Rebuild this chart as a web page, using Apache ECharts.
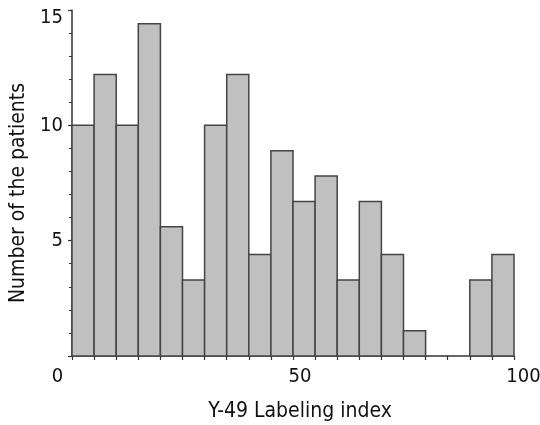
<!DOCTYPE html>
<html><head><meta charset="utf-8">
<script src="https://cdn.jsdelivr.net/npm/echarts@6/dist/echarts.min.js"></script>
<style>html,body{margin:0;padding:0;background:#fff}#c{width:540px;height:425px}</style>
</head><body><div id="c"></div>
<script>
const binStarts = [0,5,10,15,20,25,30,35,40,45,50,55,60,65,70,75,80,85,90,95];
const binWidth = 5;
const values = [10,12.2,10,14.4,5.6,3.3,10,12.2,4.4,8.9,6.7,7.8,3.3,6.7,4.4,1.1,0,0,3.3,4.4];
const xTickLabels = ['0','50','100'];
const yTickLabels = ['5','10','15'];
const xTitle = 'Y-49 Labeling index';
const yTitle = 'Number of the patients';

const FONT = 'DejaVu Sans Condensed';
const FS = 20, TFS = 21;
const data = binStarts.map((s,i)=>[s, s+binWidth, values[i]]);
const lbl = (extra)=>Object.assign({fontFamily:FONT,fontSize:FS,color:'#111'},extra);
const chart = echarts.init(document.getElementById('c'), null, {renderer:'canvas'});
chart.setOption({
  animation:false,
  backgroundColor:'#fff',
  grid:{left:72,right:26,top:10,bottom:69,containLabel:false,outerBoundsMode:'none'},
  xAxis:{
    type:'value',min:0,max:100,interval:5,
    axisLine:{lineStyle:{color:'#333',width:1.5}},
    axisTick:{show:true,length:4,lineStyle:{color:'#333',width:1.2}},
    splitLine:{show:false},
    axisLabel:{
      margin:11,color:'#111',fontFamily:FONT,fontSize:FS,
      formatter:v=>{const s=String(v); if(!xTickLabels.includes(s)) return ''; return v===0?'{a|'+s+'}':(v===50?'{b|'+s+'}':'{c|'+s+'}');},
      rich:{a:lbl({padding:[0,29,0,0]}),b:lbl({padding:[0,0,0,14]}),c:lbl({padding:[0,0,0,19]})}
    },
    name:xTitle,nameLocation:'middle',nameGap:45,
    nameTextStyle:{fontFamily:FONT,fontSize:TFS,color:'#111',padding:[0,0,0,14]}
  },
  yAxis:{
    type:'value',min:0,max:15,interval:5,
    axisLine:{show:true,lineStyle:{color:'#333',width:1.5}},
    axisTick:{show:true,length:4,lineStyle:{color:'#333',width:1.2}},
    minorTick:{show:true,splitNumber:5,length:3,lineStyle:{color:'#333',width:1}},
    splitLine:{show:false},
    axisLabel:{
      margin:9,color:'#111',fontFamily:FONT,fontSize:FS,
      formatter:v=>{const s=String(v); if(!yTickLabels.includes(s)) return ''; return v===15?'{t|'+s+'}':s;},
      rich:{t:lbl({padding:[16,0,0,0]})}
    },
    name:yTitle,nameLocation:'middle',nameGap:42,nameRotate:90,
    nameTextStyle:{fontFamily:FONT,fontSize:TFS,color:'#111',padding:[0,20,0,0]}
  },
  series:[{
    type:'custom',
    data:data,
    encode:{x:[0,1],y:2},
    renderItem:(params,api)=>{
      const p0=api.coord([api.value(0),api.value(2)]);
      const p1=api.coord([api.value(1),0]);
      if(api.value(2)<=0) return null;
      return {type:'rect',shape:{x:p0[0],y:p0[1],width:p1[0]-p0[0],height:p1[1]-p0[1]},
        style:{fill:'#c0c0c0',stroke:'#444',lineWidth:1.5}};
    }
  }]
});
</script></body></html>
